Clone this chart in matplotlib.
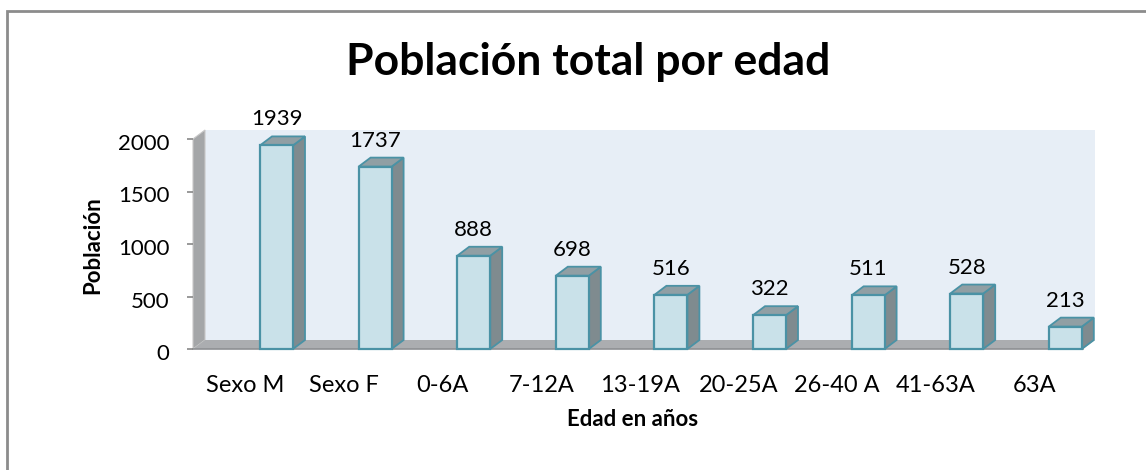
import numpy as np
import matplotlib.pyplot as plt
from matplotlib.patches import Polygon, Rectangle
from matplotlib import transforms

plt.rcParams['font.family'] = ['Lato', 'DejaVu Sans']

categorias = ["Sexo M", "Sexo F", "0-6A", "7-12A", "13-19A",
              "20-25A", "26-40 A", "41-63A", "63A"]
poblacion = [1939, 1737, 888, 698, 516, 322, 511, 528, 213]
yticks = [0, 500, 1000, 1500, 2000]

W, H = 1146, 470
fig = plt.figure(figsize=(W / 100, H / 100), dpi=100)

# plano frontal de la caja 3D, en pixeles
px_left, px_right = 193, 1083
px_zero, px_top = 349, 139
ax = fig.add_axes([px_left / W, 1 - px_zero / H,
                   (px_right - px_left) / W, (px_zero - px_top) / H])

paso = 98.6
c0 = 276.5
xl = (px_left - c0) / paso
xr = (px_right - c0) / paso
ymax = 2000
ax.set_xlim(xl, xr)
ax.set_ylim(0, ymax)

# profundidad en unidades de datos
dx = 12 / paso
dy = 9 * ymax / (px_zero - px_top)
ancho = 33 / paso

# pared del fondo, pared izquierda y piso
ax.add_patch(Rectangle((xl + dx, dy), xr - xl, ymax, facecolor="#e7eef6",
                       edgecolor="none", clip_on=False, zorder=0))
ax.add_patch(Polygon([(xl, 0), (xl + dx, dy), (xl + dx, ymax + dy), (xl, ymax)],
                     facecolor="#a4a6a8", edgecolor="#c8c8c8", lw=0.8,
                     clip_on=False, zorder=1))
ax.add_patch(Polygon([(xl, 0), (xr, 0), (xr + dx, dy), (xl + dx, dy)],
                     facecolor="#abadb0", edgecolor="none",
                     clip_on=False, zorder=1))
ax.plot([xl, xr], [0, 0], color="#8e9093", lw=1.2, clip_on=False, zorder=1)

borde = "#4a92a5"
for i, v in enumerate(poblacion):
    a = i - ancho / 2
    b = i + ancho / 2
    ax.add_patch(Polygon([(b, 0), (b + dx, dy), (b + dx, v + dy), (b, v)],
                         facecolor="#7f8b8f", edgecolor=borde, lw=1.3,
                         clip_on=False, zorder=3))
    ax.add_patch(Polygon([(a, v), (b, v), (b + dx, v + dy), (a + dx, v + dy)],
                         facecolor="#909fa4", edgecolor=borde, lw=1.3,
                         clip_on=False, zorder=3))
    ax.add_patch(Rectangle((a, 0), ancho, v, facecolor="#c9e1e9",
                           edgecolor=borde, lw=1.6, clip_on=False, zorder=4))

    etiqueta = transforms.offset_copy(ax.transData, fig=fig, x=0, y=26, units="dots")
    ax.text(i, v, str(v), transform=etiqueta, ha="center", va="center",
            fontsize=16, color="black")

    cat_tr = transforms.offset_copy(ax.transData, fig=fig, x=-31, y=-37, units="dots")
    ax.text(i, 0, categorias[i], transform=cat_tr, ha="center", va="center",
            fontsize=17, color="black")

for s in ax.spines.values():
    s.set_visible(False)
ax.set_xticks([])
ax.set_yticks(yticks)
ax.tick_params(axis="y", length=4, width=1.2, color="#888888", pad=13,
               labelsize=16)
for lbl in ax.get_yticklabels():
    lbl.set_transform(lbl.get_transform() +
                      transforms.ScaledTranslation(0, -3 / 100, fig.dpi_scale_trans))
ax.patch.set_visible(False)

fig.text(588 / W, 1 - 75 / H, "Población total por edad", ha="center",
         va="baseline", fontsize=32, fontweight="bold")
fig.text(93 / W, 1 - 245 / H, "Población", rotation=90, ha="center",
         va="center", fontsize=16, fontweight="bold")
fig.text(633 / W, 1 - 420 / H, "Edad en años", ha="center", va="center",
         fontsize=16, fontweight="bold")

# borde exterior del grafico
fig.patches.append(Rectangle((7 / W, -0.05), 1.1, 1 - 11 / H + 0.05,
                             transform=fig.transFigure, fill=False,
                             edgecolor="#8c8c8c", lw=2))

fig.savefig("out.png", dpi=100)
